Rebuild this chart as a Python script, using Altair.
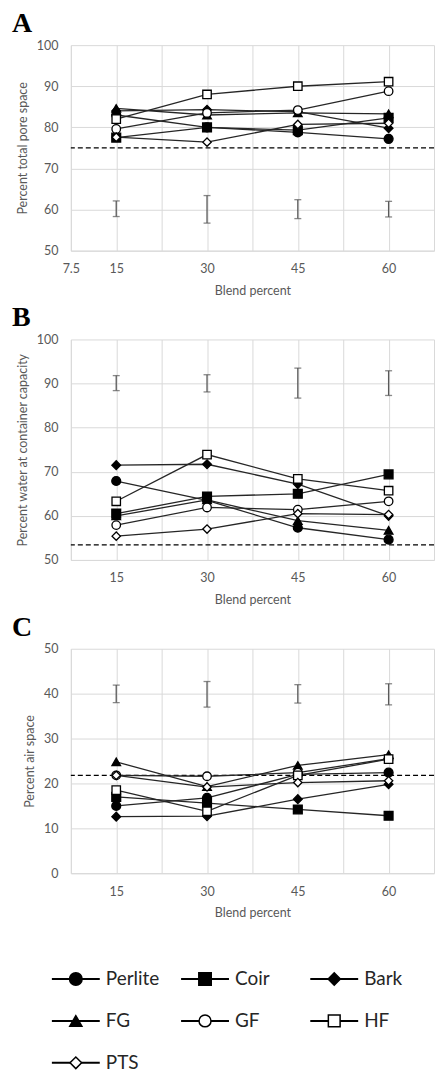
import altair as alt
import pandas as pd

# ---------------- data ----------------
blend = [15, 30, 45, 60]
series = ["Perlite", "Coir", "Bark", "FG", "GF", "HF", "PTS"]
shapes = ["circle", "square", "diamond", "triangle-up", "circle", "square", "diamond"]
fills = ["black", "black", "black", "black", "white", "white", "white"]
sizes = [80, 70, 60, 70, 80, 75, 38]
legend_sizes = [160, 135, 110, 120, 110, 120, 70]

# A: percent total pore space
tps = {
    "Perlite": [83.0, 80.0, 78.8, 77.2],
    "Coir":    [77.5, 80.0, 79.3, 82.3],
    "Bark":    [84.0, 84.3, 83.8, 79.8],
    "FG":      [84.6, 83.0, 83.5, 83.3],
    "GF":      [79.6, 83.5, 84.2, 88.8],
    "HF":      [82.0, 88.0, 90.0, 91.1],
    "PTS":     [77.6, 76.4, 80.7, 81.0],
}
tps_lo = [58.3, 56.7, 57.8, 58.2]
tps_hi = [62.1, 63.4, 62.4, 62.0]
tps_ref = [75.0]

# B: percent water at container capacity
wcc = {
    "Perlite": [67.9, 63.5, 57.3, 54.6],
    "Coir":    [60.5, 64.4, 65.0, 69.4],
    "Bark":    [71.5, 71.7, 67.2, 60.0],
    "FG":      [60.0, 63.6, 58.9, 56.7],
    "GF":      [57.9, 61.9, 61.4, 63.3],
    "HF":      [63.3, 73.9, 68.4, 65.7],
    "PTS":     [55.4, 57.0, 60.5, 60.3],
}
wcc_lo = [88.4, 88.1, 86.7, 87.3]
wcc_hi = [91.8, 92.0, 93.5, 92.9]
wcc_ref = [53.4]

# C: percent air space
air = {
    "Perlite": [15.0, 16.8, 22.0, 22.4],
    "Coir":    [17.0, 15.6, 14.2, 12.8],
    "Bark":    [12.6, 12.7, 16.5, 19.8],
    "FG":      [24.8, 19.3, 24.0, 26.4],
    "GF":      [21.8, 21.6, 22.4, 25.5],
    "HF":      [18.5, 13.8, 21.8, 25.4],
    "PTS":     [21.8, 19.2, 20.2, 20.6],
}
air_lo = [38.0, 37.0, 37.9, 37.5]
air_hi = [41.9, 42.7, 42.0, 42.2]
air_ref = [21.8]

x_grid = [7.5, 15, 22.5, 30, 37.5, 45, 52.5, 60, 67.5]

FONT = "Lato"
GREY = "#595959"
W = 364


def panel(letter, data, lo, hi, ref, ymin, ymax, ytitle, height, label_expr):
    df = pd.DataFrame(
        [{"series": s, "blend": b, "value": v} for s in series for b, v in zip(blend, data[s])]
    )
    err = pd.DataFrame({"blend": blend, "lo": lo, "hi": hi})
    refdf = pd.DataFrame({"ref": ref})

    xs = alt.Scale(domain=[7.5, 67.5], nice=False, zero=False)
    ys = alt.Scale(domain=[ymin, ymax], nice=False, zero=False)
    xaxis = alt.Axis(values=x_grid, labelExpr=label_expr, title="Blend percent", format="~g",
                     labelOverlap=False, labelFlush=False)
    yaxis = alt.Axis(values=list(range(ymin, ymax + 1, 10)), title=ytitle)

    X = alt.X("blend:Q", scale=xs, axis=xaxis)

    def Y(f):
        return alt.Y(f, scale=ys, axis=yaxis, title=ytitle)

    bars = alt.Chart(err).mark_rule(color=GREY, strokeWidth=1.3).encode(
        x=X, y=Y("lo:Q"), y2="hi:Q")
    cap_lo = alt.Chart(err).mark_tick(color=GREY, orient="horizontal", size=7, thickness=1.3).encode(
        x=X, y=Y("lo:Q"))
    cap_hi = alt.Chart(err).mark_tick(color=GREY, orient="horizontal", size=7, thickness=1.3).encode(
        x=X, y=Y("hi:Q"))
    refline = alt.Chart(refdf).mark_rule(color="black", strokeDash=[5, 3], strokeWidth=1.3).encode(
        y=Y("ref:Q"))
    lines = alt.Chart(df).mark_line(color="#262626", strokeWidth=1.3).encode(
        x=X, y=Y("value:Q"), detail="series:N", order="blend:Q")
    points = alt.Chart(df).mark_point(opacity=1, strokeWidth=1.3, stroke="black").encode(
        x=X, y=Y("value:Q"),
        shape=alt.Shape("series:N", scale=alt.Scale(domain=series, range=shapes), legend=None),
        fill=alt.Fill("series:N", scale=alt.Scale(domain=series, range=fills), legend=None),
        size=alt.Size("series:N", scale=alt.Scale(domain=series, range=sizes), legend=None),
    )
    return alt.layer(bars, cap_lo, cap_hi, refline, lines, points).properties(
        width=W, height=height,
        title=alt.TitleParams(letter, anchor="start", frame="group", dx=-59,
                              font="Liberation Serif", fontSize=28, fontWeight="bold",
                              color="black", baseline="alphabetic", offset=-21),
    )


lab_a = "(datum.value % 15 == 0 || datum.value == 7.5) && datum.value < 67 ? datum.label : ''"
lab_bc = "datum.value % 15 == 0 ? datum.label : ''"

pa = panel("A", tps, tps_lo, tps_hi, tps_ref, 50, 100, "Percent total pore space", 206, lab_a)
pb = panel("B", wcc, wcc_lo, wcc_hi, wcc_ref, 50, 100, "Percent water at container capacity", 221, lab_bc)
pc = panel("C", air, air_lo, air_hi, air_ref, 0, 50, "Percent air space", 225, lab_bc)

# ---------------- legend ----------------
leg = pd.DataFrame({
    "series": series,
    "col": [i % 3 for i in range(len(series))],
    "row": [i // 3 for i in range(len(series))],
})
lx = alt.X("col:Q", scale=alt.Scale(domain=[0, 2], range=[5, 264]), axis=None)
ly = alt.Y("row:Q", scale=alt.Scale(domain=[0, 2], range=[52, 136]), axis=None)
leg_line = alt.Chart(leg).mark_rule(color="black", strokeWidth=2, xOffset=-24, x2Offset=24).encode(
    x=lx, x2="col:Q", y=ly)
leg_pt = alt.Chart(leg).mark_point(opacity=1, strokeWidth=1.5, stroke="black").encode(
    x=lx, y=ly,
    shape=alt.Shape("series:N", scale=alt.Scale(domain=series, range=shapes), legend=None),
    fill=alt.Fill("series:N", scale=alt.Scale(domain=series, range=fills), legend=None),
    size=alt.Size("series:N", scale=alt.Scale(domain=series, range=legend_sizes), legend=None),
)
leg_txt = alt.Chart(leg).mark_text(align="left", baseline="middle", dx=30, font=FONT,
                                   fontSize=19, color="#262626").encode(
    x=lx, y=ly, text="series:N")
legend = alt.layer(leg_line, leg_pt, leg_txt).properties(width=W, height=136)

chart = alt.vconcat(pa, pb, pc, legend, spacing=8).resolve_scale(
    shape="independent", fill="independent", size="independent"
).properties(
    padding={"left": 12, "top": 9, "right": 0, "bottom": 0}
).configure_view(stroke=None).configure_axis(
    labelFont=FONT, titleFont=FONT, labelColor=GREY, titleColor=GREY,
    labelFontSize=12.5, titleFontSize=12.5, titleFontWeight="normal",
    gridColor="#d9d9d9", domainColor="#d9d9d9", ticks=False,
).configure_axisX(labelPadding=12, titlePadding=9).configure_axisY(
    labelPadding=13, titlePadding=7
)

chart.save("out.html", embed_options={"renderer": "svg", "actions": False})
